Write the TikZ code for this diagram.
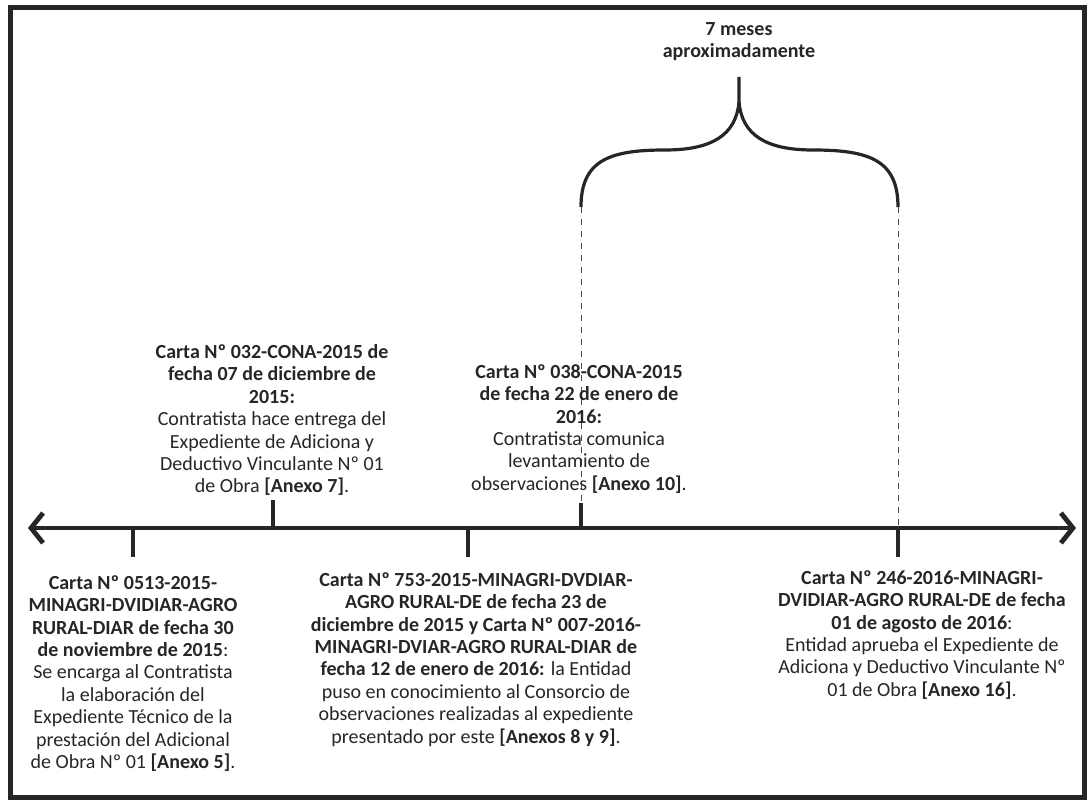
\documentclass[tikz,border=0pt]{standalone}
\usepackage{fontspec}
\setmainfont{Carlito}
\usetikzlibrary{arrows.meta}

\begin{document}
\begin{tikzpicture}[x=0.5pt, y=-0.5pt, >={Straight Barb[length=6pt,width=15pt]},
	every node/.style={align=center, inner sep=0pt, text=black!85, font=\fontsize{10}{11.2}\selectfont},
	hito/.style={line width=1.8pt, black!85},
	guia/.style={dashed, line width=0.5pt, black!70}]
	\useasboundingbox (0,0) rectangle (1089,802);
	\draw [line width=2.5pt, black!85] (10,8) rectangle (1084,797);
	% linea de tiempo
	\coordinate (ini) at (28,528);
	\coordinate (fin) at (1076,528);
	\draw [<->, line width=2.4pt, black!85] (ini) -- (fin);
	% marcas
	\coordinate (m1) at (133,528); \coordinate (m1b) at (133,557);
	\coordinate (m2) at (273,528); \coordinate (m2b) at (273,500);
	\coordinate (m3) at (468,528); \coordinate (m3b) at (468,557);
	\coordinate (m4) at (581,528); \coordinate (m4b) at (581,503);
	\coordinate (m5) at (898,528); \coordinate (m5b) at (898,557);
	\draw [hito] (m1) -- (m1b);
	\draw [hito] (m2) -- (m2b);
	\draw [hito] (m3) -- (m3b);
	\draw [hito] (m4) -- (m4b);
	\draw [hito] (m5) -- (m5b);
	% llave
	\coordinate (bi) at (581,207);
	\coordinate (bd) at (898,207);
	\coordinate (bc) at (739,102);
	\coordinate (bt) at (739,77);
	\draw [hito, line width=1.6pt] (bi) .. controls (581,160) and (610,150) .. (665,150) .. controls (712,150) and (736,135) .. (bc) -- (bt);
	\draw [hito, line width=1.6pt] (bd) .. controls (898,160) and (869,150) .. (813,150) .. controls (766,150) and (742,135) .. (bc);
	\draw [guia] (bi) -- (m4b);
	\draw [guia] (bd) -- (m5);
	\node [anchor=north] (plazo) at (739,22) {\textbf{7 meses}\\ \textbf{aproximadamente}};
	% textos
	\node [anchor=north] (carta0513) at (133,575) {\textbf{Carta Nº 0513-2015-}\\ \textbf{MINAGRI-DVIDIAR-AGRO}\\ \textbf{RURAL-DIAR de fecha 30}\\ \textbf{de noviembre de 2015}:\\ Se encarga al Contratista\\ la elaboración del\\ Expediente Técnico de la\\ prestación del Adicional\\ de Obra Nº 01 \textbf{[Anexo 5]}.};
	\node [anchor=north] (carta032) at (272,344) {\textbf{Carta Nº 032-CONA-2015 de}\\ \textbf{fecha 07 de diciembre de}\\ \textbf{2015:}\\ Contratista hace entrega del\\ Expediente de Adiciona y\\ Deductivo Vinculante Nº 01\\ de Obra \textbf{[Anexo 7]}.};
	\node [anchor=north] (carta753) at (476,572) {\textbf{Carta Nº 753-2015-MINAGRI-DVDIAR-}\\ \textbf{AGRO RURAL-DE de fecha 23 de}\\ \textbf{diciembre de 2015 y Carta Nº 007-2016-}\\ \textbf{MINAGRI-DVIAR-AGRO RURAL-DIAR de}\\ \textbf{fecha 12 de enero de 2016:} la Entidad\\ puso en conocimiento al Consorcio de\\ observaciones realizadas al expediente\\ presentado por este \textbf{[Anexos 8 y 9]}.};
	\node [anchor=north] (carta038) at (579,364) {\textbf{Carta Nº 038-CONA-2015}\\ \textbf{de fecha 22 de enero de}\\ \textbf{2016:}\\ Contratista comunica\\ levantamiento de\\ observaciones \textbf{[Anexo 10]}.};
	\node [anchor=north] (carta246) at (922,570) {\textbf{Carta Nº 246-2016-MINAGRI-}\\ \textbf{DVIDIAR-AGRO RURAL-DE de fecha}\\ \textbf{01 de agosto de 2016}:\\ Entidad aprueba el Expediente de\\ Adiciona y Deductivo Vinculante Nº\\ 01 de Obra \textbf{[Anexo 16]}.};
\end{tikzpicture}
\end{document}
